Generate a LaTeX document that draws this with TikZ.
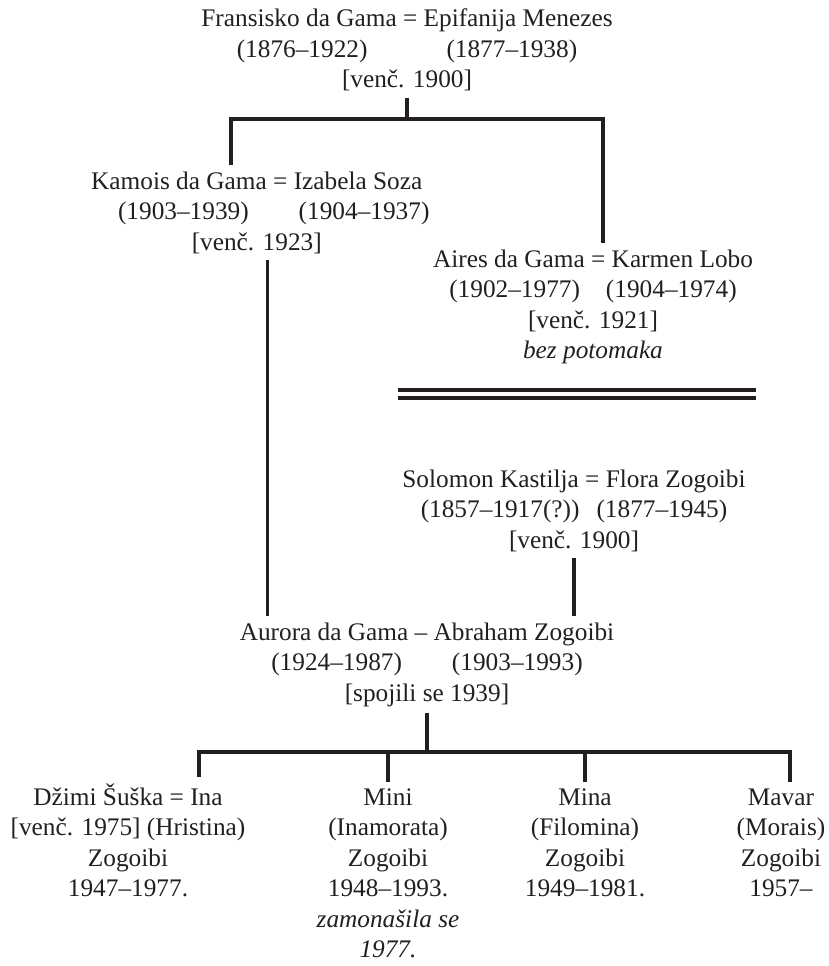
\documentclass[tikz,border=0pt]{standalone}
\usepackage{fontspec}
\setmainfont{Liberation Serif}
\definecolor{ink}{HTML}{231F20}
\tikzset{
  person/.style={align=center, anchor=base, inner xsep=0pt, inner ysep=6pt,
    text=ink, font=\fontsize{25.3}{30.5}\selectfont},
  kin/.style={draw=ink, line width=3.2pt}
}
\begin{document}
\begin{tikzpicture}[x=1pt,y=-1pt]
  \useasboundingbox (0,0) rectangle (828,966);

  % first generation (placed at the baseline of the last line)
  \node[person] (fransisko) at (407,88) {Fransisko da Gama = Epifanija Menezes\\(1876–1922)\hspace{79pt}(1877–1938)\\{}[venč. 1900]};

  % children of Fransisko
  \node[person] (kamois) at (256.75,250) {Kamois da Gama = Izabela Soza\\\hspace*{34pt}(1903–1939)\hspace{50pt}(1904–1937)\\{}[venč. 1923]};
  \node[person] (aires) at (593,358.5) {Aires da Gama = Karmen Lobo\\(1902–1977)\hspace{26pt}(1904–1974)\\{}[venč. 1921]\\\textit{bez potomaka}};

  % the Zogoibi side
  \node[person] (solomon) at (574,548) {Solomon Kastilja = Flora Zogoibi\\(1857–1917(?))\hspace{17pt}(1877–1945)\\{}[venč. 1900]};
  \node[person] (aurora) at (427,701) {Aurora da Gama – Abraham Zogoibi\\(1924–1987)\hspace{50pt}(1903–1993)\\{}[spojili se 1939]};

  % grandchildren
  \node[person] (dzimi) at (128,896.5) {Džimi Šuška = Ina\\{}[venč. 1975] (Hristina)\\Zogoibi\\1947–1977.};
  \node[person] (mini) at (388,957.5) {Mini\\(Inamorata)\\Zogoibi\\1948–1993.\\\textit{zamonašila se}\\\textit{1977.}};
  \node[person] (mina) at (585,896.5) {Mina\\(Filomina)\\Zogoibi\\1949–1981.};
  \node[person] (mavar) at (781,896.5) {Mavar\\(Morais)\\Zogoibi\\1957–};

  % bar ends
  \coordinate (sibs-l) at (231,119);
  \coordinate (sibs-r) at (603,119);
  \coordinate (kids-l) at (199,752);
  \coordinate (kids-r) at (790,752);
  \coordinate (kamois-d) at ([xshift=11pt]kamois.south);

  % lines of descent
  \draw[kin] (fransisko.south) -- (fransisko.south |- sibs-l);
  \draw[kin] (kamois.north -| sibs-l) -- (sibs-l) -- (sibs-r) -- (aires.north -| sibs-r);
  \draw[kin] (kamois-d) -- (kamois-d |- aurora.north);
  \draw[kin] (solomon.south) -- (solomon.south |- aurora.north);
  \draw[kin] (aurora.south) -- (aurora.south |- kids-l);
  \draw[kin] (dzimi.north -| kids-l) -- (kids-l) -- (kids-r) -- (mavar.north -| kids-r);
  \draw[kin] (mini.north) -- (mini.north |- kids-l);
  \draw[kin] (mina.north) -- (mina.north |- kids-l);

  % no issue here
  \draw[kin, double=white, double distance=4.8pt] (398,394) -- (756,394);
\end{tikzpicture}
\end{document}
